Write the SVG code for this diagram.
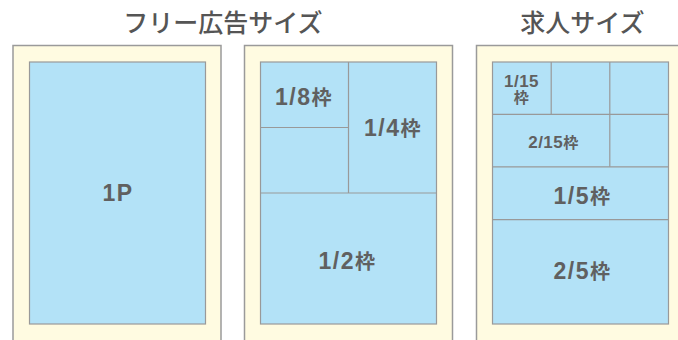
<svg xmlns="http://www.w3.org/2000/svg" width="678" height="340" viewBox="0 0 678 340">
<style>
.outer{fill:#FFFBE1;stroke:#9a9a9a;stroke-width:1.5}
.inner{fill:#B3E2F7;stroke:#999;stroke-width:1.2}
.div{stroke:#999;stroke-width:1.2;fill:none}
.title{font-family:"Noto Sans CJK JP","Liberation Sans",sans-serif;font-weight:500;font-size:25px;fill:#555;text-anchor:middle}
.lbl{font-family:"Liberation Sans","Noto Sans CJK JP",sans-serif;font-weight:bold;font-size:23px;fill:#606060;text-anchor:middle;letter-spacing:1.5px}
.sm{font-family:"Liberation Sans","Noto Sans CJK JP",sans-serif;font-weight:bold;font-size:17px;fill:#606060;text-anchor:middle;letter-spacing:0.5px}
.k{font-size:20px}
.ks{font-size:15px}
</style>
<g id="title-free"><text class="title" x="223" y="32">フリー広告サイズ</text></g>
<g id="title-job"><text class="title" x="582.5" y="32">求人サイズ</text></g>

<g id="panel-free-1">
<rect class="outer" x="13" y="45.5" width="208" height="310"/>
<rect class="inner" x="29.5" y="62" width="176" height="262"/>
<text class="lbl" x="118" y="201">1P</text>
</g>

<g id="panel-free-2">
<rect class="outer" x="244.5" y="45.5" width="208" height="310"/>
<rect class="inner" x="260.5" y="62" width="176" height="262"/>
<g class="div-lines">
<line class="div" x1="348.5" y1="62" x2="348.5" y2="193"/>
<line class="div" x1="260.5" y1="127.5" x2="348.5" y2="127.5"/>
<line class="div" x1="260.5" y1="193" x2="436.5" y2="193"/>
</g>
<text class="lbl" x="304" y="105">1/8<tspan class="k">枠</tspan></text>
<text class="lbl" x="393" y="136">1/4<tspan class="k">枠</tspan></text>
<text class="lbl" x="347.5" y="269">1/2<tspan class="k">枠</tspan></text>
</g>

<g id="panel-job">
<rect class="outer" x="476.5" y="45.5" width="208" height="310"/>
<rect class="inner" x="492.5" y="62" width="176" height="262"/>
<g class="div-lines">
<line class="div" x1="551.2" y1="62" x2="551.2" y2="114.4"/>
<line class="div" x1="609.8" y1="62" x2="609.8" y2="166.8"/>
<line class="div" x1="492.5" y1="114.4" x2="668.5" y2="114.4"/>
<line class="div" x1="492.5" y1="166.8" x2="668.5" y2="166.8"/>
<line class="div" x1="492.5" y1="219.6" x2="668.5" y2="219.6"/>
</g>
<text class="sm" x="521.5" y="86.5">1/15</text>
<text class="sm" x="521.5" y="103"><tspan class="ks">枠</tspan></text>
<text class="sm" x="553.5" y="147.5">2/15<tspan class="ks">枠</tspan></text>
<text class="lbl" x="582.5" y="203.5">1/5<tspan class="k">枠</tspan></text>
<text class="lbl" x="582.5" y="278.5">2/5<tspan class="k">枠</tspan></text>
</g>
</svg>
